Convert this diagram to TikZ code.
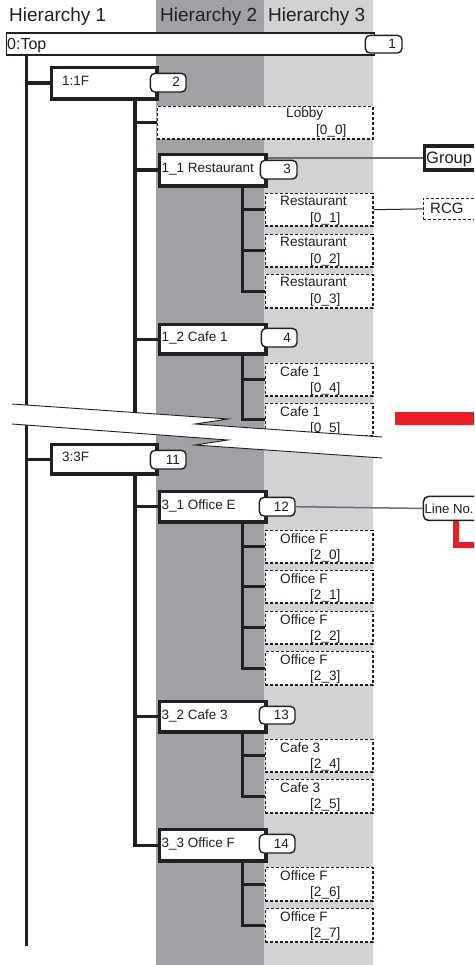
\documentclass[tikz,border=0pt]{standalone}
\usepackage{fontspec}
\setmainfont{Liberation Sans}
\usetikzlibrary{backgrounds}
\definecolor{dkband}{HTML}{A0A1A5}
\definecolor{ltband}{HTML}{D1D2D4}
\definecolor{ink}{HTML}{231F20}
\definecolor{redbar}{HTML}{ED1C24}
\definecolor{glinec}{HTML}{6D6E71}
\tikzset{
  hbox/.style={draw=ink, line width=3.1pt, fill=white, rectangle, inner sep=0pt, anchor=north west},
  leafbox/.style={draw=ink, line width=1.4pt, dash pattern=on 3pt off 2pt, fill=white, inner sep=0pt, anchor=north west, minimum width=107.6},
  badge/.style={draw=ink, line width=1.4pt, fill=white, rounded corners=4.5pt, inner sep=0pt, anchor=north west},
  conn/.style={draw=ink, line width=3.1pt},
  txt/.style={inner sep=0pt, anchor=base west, text=ink, font=\fontsize{13.5}{15}\selectfont},
  ltxt/.style={inner sep=0pt, anchor=base west, text=ink, font=\fontsize{13.6}{15}\selectfont},
  btxt/.style={inner sep=0pt, anchor=base east, text=ink, font=\fontsize{13.5}{15}\selectfont},
  hdr/.style={inner sep=0pt, anchor=base west, text=ink, font=\fontsize{19}{21}\selectfont},
  brk/.style={draw=ink, line width=0.9pt},
}
% name, x1, y1, x2, y2, text, text x
\newcommand\mkH[7]{%
  \node[hbox, minimum width={#4-#2-3.1}, minimum height={#5-#3-3.1}] (#1) at ({#2+1.55},{#3+1.55}) {};
  \node[txt] (#1t) at (#7,{(#3+#5)/2+4}) {#6};
}
% name, ytop, ybot, line1, line2
\newcommand\mkL[5]{%
  \node[leafbox, minimum height={#3-#2-1.4}] (#1) at (264.7,{#2+0.7}) {};
  \node[ltxt] (#1a) at (280,{#2+14}) {#4};
  \node[ltxt] (#1b) at (310,{#2+30.5}) {#5};
}
% name, x1, y1, x2, y2, number
\newcommand\mkB[6]{%
  \node[badge, minimum width={#4-#2-1.4}, minimum height={#5-#3-1.4}] (#1) at ({#2+0.7},{#3+0.7}) {};
  \node[btxt] (#1t) at ({#4-6},{(#3+#5)/2+5}) {#6};
}
\begin{document}
\begin{tikzpicture}[x=1pt,y=-1pt]
\useasboundingbox (0,0) rectangle (474,965);
\clip (0,0) rectangle (474,965);

% trunk x positions
\coordinate (x1) at (26.7,0);
\coordinate (x2) at (135,0);
\coordinate (x3) at (242.7,0);
\coordinate (h1end) at (0,946);
\coordinate (brkA) at (0,420);

% headers
\node[hdr] (h1) at (9,22) {Hierarchy 1};
\node[hdr] (h2) at (160,22) {Hierarchy 2};
\node[hdr] (h3) at (268,22) {Hierarchy 3};

% top box
\node[draw=ink, line width=1.3pt, fill=white, inner sep=0pt, anchor=north west,
      minimum width=368, minimum height=22] (top) at (5.5,32.5) {};
\node[txt, font=\fontsize{16}{18}\selectfont] (toptxt) at (7,49.5) {0:Top};

% hierarchy 1 boxes
\mkH{f1}{48}{64}{157}{99}{1:1F}{62}
\mkH{f3}{48}{441}{157}{474}{3:3F}{62}

% hierarchy 2 boxes
\mkH{r11}{156}{151}{266}{186}{1\_1 Restaurant}{161.5}
\mkH{c1}{156}{321}{266}{354}{1\_2 Cafe 1}{161.5}
\mkH{oe}{156}{488}{266}{522}{3\_1 Office E}{161.5}
\mkH{c3}{156}{698}{266}{732}{3\_2 Cafe 3}{161.5}
\mkH{of}{156}{826}{266}{861}{3\_3 Office F}{161.5}

% lobby
\node[leafbox, minimum width=215.6, minimum height=32.6] (lobby) at (156.7,105.7) {};
\node[ltxt] (lobbya) at (286,118) {Lobby};
\node[ltxt] (lobbyb) at (316,135) {[0\_0]};

% leaves
\mkL{r01}{192}{226}{Restaurant}{[0\_1]}
\mkL{r02}{233}{267}{Restaurant}{[0\_2]}
\mkL{r03}{273}{308}{Restaurant}{[0\_3]}
\mkL{c14}{362}{396}{Cafe 1}{[0\_4]}
\mkL{c15}{402}{436}{Cafe 1}{[0\_5]}
\mkL{o20}{529}{563}{Office F}{[2\_0]}
\mkL{o21}{569}{603}{Office F}{[2\_1]}
\mkL{o22}{610}{644}{Office F}{[2\_2]}
\mkL{o23}{650}{685}{Office F}{[2\_3]}
\mkL{c24}{738}{772}{Cafe 3}{[2\_4]}
\mkL{c25}{778}{813}{Cafe 3}{[2\_5]}
\mkL{o26}{866}{901}{Office F}{[2\_6]}
\mkL{o27}{907}{942}{Office F}{[2\_7]}

% badges
\mkB{b1}{364}{34}{402}{53}{1}
\mkB{b2}{149}{72}{186}{92}{2}
\mkB{b3}{259}{159}{297}{179}{3}
\mkB{b4}{260}{327}{297}{347}{4}
\mkB{b11}{149}{449}{186}{469}{11}
\mkB{b12}{258}{496}{295}{516}{12}
\mkB{b13}{258}{705}{295}{724}{13}
\mkB{b14}{258}{833}{295}{853}{14}

% background: bands and connectors
\begin{pgfonlayer}{background}
  \fill[dkband] (156,0) rectangle (264,965);
  \fill[ltband] (264,0) rectangle (373,965);
  % hierarchy 1 trunk
  \draw[conn] (top.south -| x1) -- (x1 |- h1end);
  \draw[conn] (f1.west -| x1) -- (f1.west);
  \draw[conn] (f3.west -| x1) -- (f3.west);
  % 1:1F trunk
  \draw[conn] (f1.south -| x2) -- (x2 |- brkA);
  \draw[conn] (lobby.west -| x2) -- (lobby.west);
  \draw[conn] (r11.west -| x2) -- (r11.west);
  \draw[conn] (c1.west -| x2) -- (c1.west);
  % 3:3F trunk
  \draw[conn] (f3.south -| x2) |- (of.west);
  \draw[conn] (oe.west -| x2) -- (oe.west);
  \draw[conn] (c3.west -| x2) -- (c3.west);
  % hierarchy 2 trunks
  \draw[conn] (r11.south -| x3) |- (r03.west);
  \draw[conn] (r01.west -| x3) -- (r01.west);
  \draw[conn] (r02.west -| x3) -- (r02.west);
  \draw[conn] (c1.south -| x3) |- (c15.west);
  \draw[conn] (c14.west -| x3) -- (c14.west);
  \draw[conn] (oe.south -| x3) |- (o23.west);
  \draw[conn] (o20.west -| x3) -- (o20.west);
  \draw[conn] (o21.west -| x3) -- (o21.west);
  \draw[conn] (o22.west -| x3) -- (o22.west);
  \draw[conn] (c3.south -| x3) |- (c25.west);
  \draw[conn] (c24.west -| x3) -- (c24.west);
  \draw[conn] (of.south -| x3) |- (o27.west);
  \draw[conn] (o26.west -| x3) -- (o26.west);
\end{pgfonlayer}

% break wedge
\fill[white] (12,404) -- (228,419) -- (195,424) -- (382,437) -- (382,458)
  -- (195,445) -- (228,440) -- (12,424) -- cycle;
\draw[brk] (12,404) -- (228,419) -- (195,424) -- (382,437);
\draw[brk] (12,424) -- (228,440) -- (195,445) -- (382,458);

% right-side callouts
\fill[redbar] (395,412) rectangle (474,425);
\draw[redbar, line width=6pt] (455.5,515) -- (455.5,545) -- (480,545);

\node[draw=ink, line width=3.1pt, fill=white, inner sep=0pt, anchor=north west,
      minimum width=80, minimum height=24] (grp) at (422.5,144.5) {};
\node[txt, font=\fontsize{16.5}{18}\selectfont] (grpt) at (426,163.3) {Group};
\draw[glinec, line width=1.1pt] (grp.west -| r11.east) -- (grp.west);

\node[draw=ink, line width=1.4pt, dash pattern=on 3pt off 2pt, fill=white, inner sep=0pt,
      anchor=north west, minimum width=80, minimum height=21] (rcg) at (422.7,197.7) {};
\node[txt, font=\fontsize{15}{17}\selectfont] (rcgt) at (430,214) {RCG};
\draw[ink, line width=1pt] (r01.east) -- (rcg.west);

\node[draw=ink, line width=1.5pt, fill=white, inner sep=0pt, rounded corners=5pt,
      anchor=north west, minimum width=80, minimum height=24] (lno) at (422.7,495.7) {};
\node[txt, font=\fontsize{13.2}{15}\selectfont] (lnot) at (424.3,513) {Line No.};
\draw[glinec, line width=1.5pt] (b12.east) -- (lno.west);
\end{tikzpicture}
\end{document}
